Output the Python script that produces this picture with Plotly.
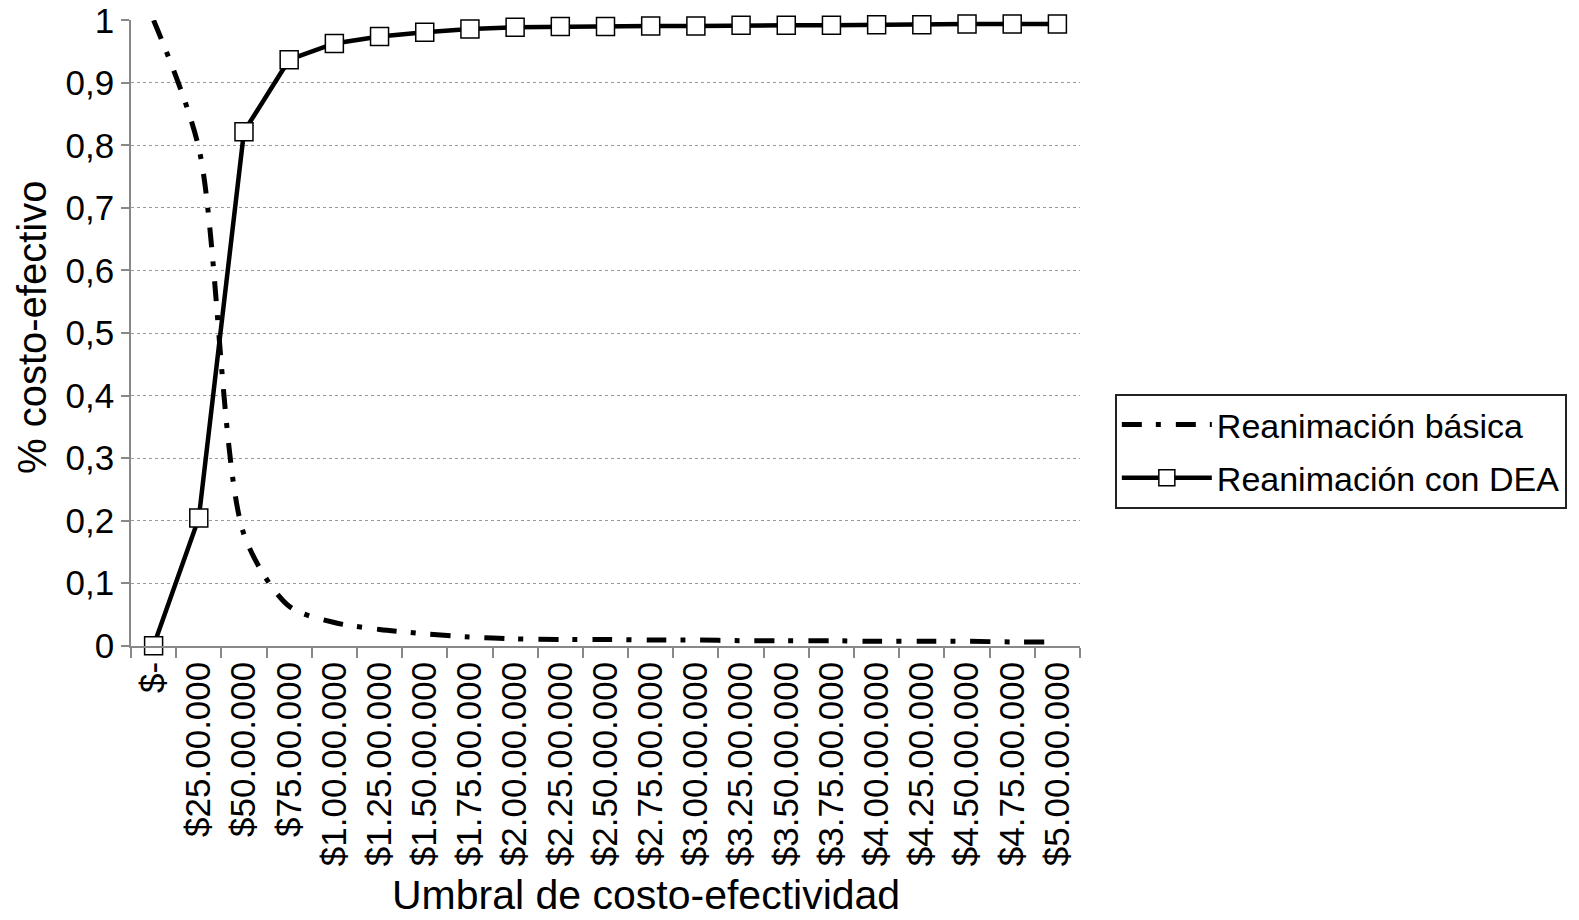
import plotly.graph_objects as go

categories = ["$-", "$25.00.000", "$50.00.000", "$75.00.000", "$1.00.00.000", "$1.25.00.000",
              "$1.50.00.000", "$1.75.00.000", "$2.00.00.000", "$2.25.00.000", "$2.50.00.000",
              "$2.75.00.000", "$3.00.00.000", "$3.25.00.000", "$3.50.00.000", "$3.75.00.000",
              "$4.00.00.000", "$4.25.00.000", "$4.50.00.000", "$4.75.00.000", "$5.00.00.000"]
basica = [1.0, 0.796, 0.178, 0.063, 0.037, 0.026, 0.019, 0.014, 0.011, 0.010, 0.010,
          0.009, 0.009, 0.008, 0.008, 0.008, 0.007, 0.007, 0.007, 0.006, 0.006]
dea = [0.0, 0.204, 0.822, 0.937, 0.963, 0.974, 0.981, 0.986, 0.989, 0.990, 0.990,
       0.991, 0.991, 0.992, 0.992, 0.992, 0.993, 0.993, 0.994, 0.994, 0.994]
y_ticks = [0, 0.1, 0.2, 0.3, 0.4, 0.5, 0.6, 0.7, 0.8, 0.9, 1]
y_labels = ["0", "0,1", "0,2", "0,3", "0,4", "0,5", "0,6", "0,7", "0,8", "0,9", "1"]
x_title = "Umbral de costo-efectividad"
y_title = "% costo-efectivo"

FONT = "Liberation Sans, Arial, sans-serif"

fig = go.Figure()
fig.add_trace(go.Scatter(
    x=categories, y=basica, name="Reanimación básica", mode="lines", legendgroup="a",
    line=dict(color="black", width=5, dash="20px,14px,5px,15px", shape="spline", smoothing=0.8),
))
fig.add_trace(go.Scatter(
    x=categories, y=dea, name="Reanimación con DEA", mode="lines+markers", legendgroup="b",
    line=dict(color="black", width=4.5),
    marker=dict(symbol="square", size=18, color="white", line=dict(color="black", width=1.5)),
    cliponaxis=False,
))

fig.update_layout(
    width=1571, height=912,
    margin=dict(l=123, r=496, t=12, b=274),
    paper_bgcolor="white", plot_bgcolor="white",
    separators=",.",
    font=dict(family=FONT, color="black", size=35),
    showlegend=True,
    legend=dict(
        x=1.0367, xanchor="left", y=0.4026, yanchor="top",
        bordercolor="#222", borderwidth=2, bgcolor="white",
        font=dict(size=34, family=FONT), itemwidth=90,
        tracegroupgap=6,
    ),
    annotations=[
        dict(text=x_title, xref="paper", yref="paper", x=0.5426, y=-0.398,
             xanchor="center", yanchor="middle", showarrow=False,
             font=dict(size=41, family=FONT, color="black")),
        dict(text=y_title, xref="paper", yref="paper", x=-0.105, y=0.5085,
             xanchor="center", yanchor="middle", showarrow=False, textangle=-90,
             font=dict(size=40, family=FONT, color="black")),
    ],
)
fig.update_xaxes(
    type="category", range=[-0.5, 20.5], automargin=False,
    tickangle=-90, tickson="boundaries", ticks="outside", ticklen=10,
    tickcolor="#888", tickwidth=1.5,
    showline=True, linecolor="#888", linewidth=1.5, showgrid=False,
    tickfont=dict(size=35, family=FONT),
)
fig.update_yaxes(
    range=[-0.0005, 1.0005], tickmode="array", tickvals=y_ticks, ticktext=y_labels,
    automargin=False,
    ticks="outside", ticklen=8, ticklabeloverflow="allow",
    tickcolor="#888", tickwidth=1.5,
    showline=True, linecolor="#888", linewidth=1.5,
    showgrid=True, gridcolor="#999", gridwidth=1, griddash="dot",
    zeroline=False,
    tickfont=dict(size=35, family=FONT),
)

fig.write_html("out.html")
